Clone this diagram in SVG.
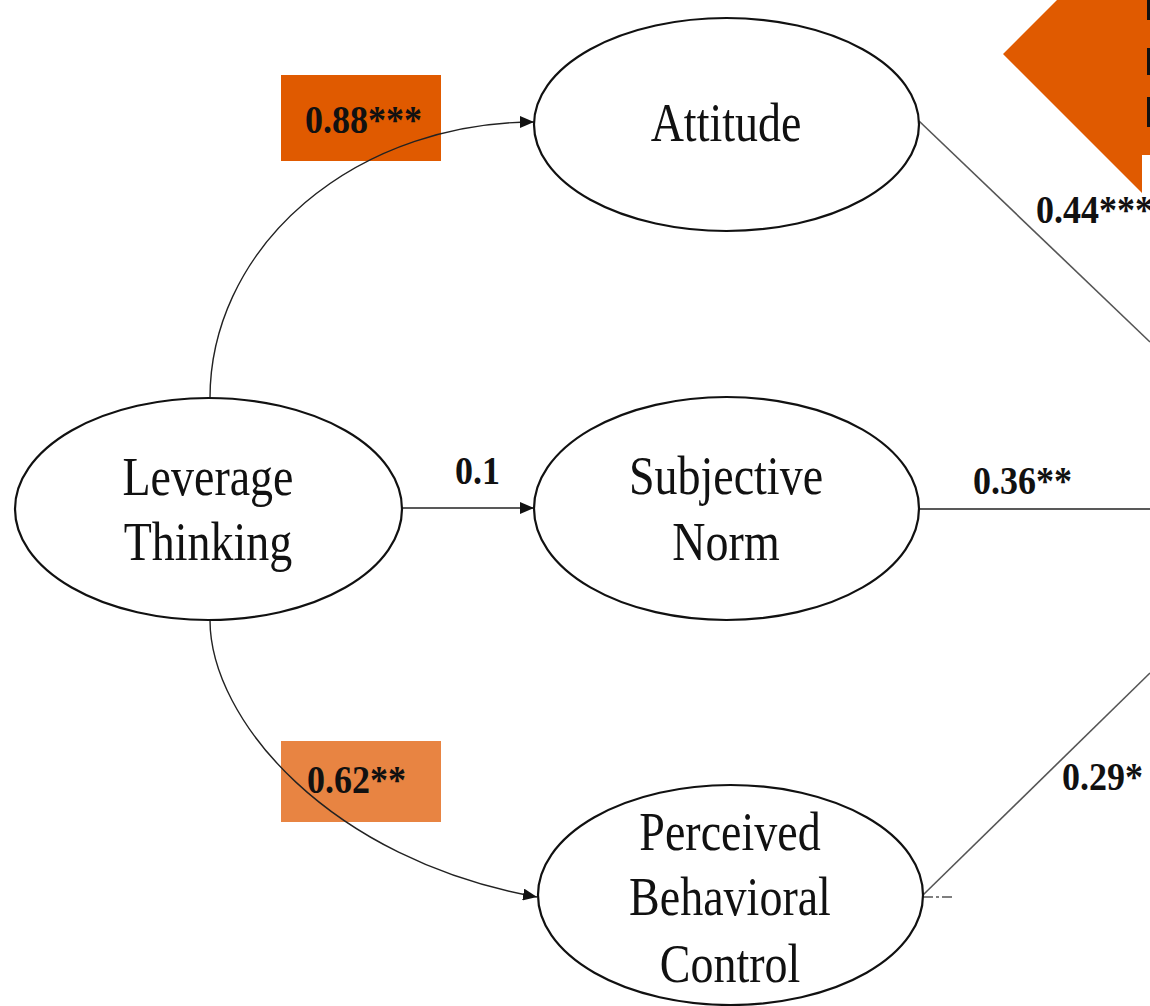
<svg xmlns="http://www.w3.org/2000/svg" width="1150" height="1006" viewBox="0 0 1150 1006">
  <style>
    .node ellipse { fill: #ffffff; stroke: #111111; stroke-width: 2.2; }
    .node text { font-family: "Liberation Serif", "Times New Roman", serif; font-size: 46px; fill: #111111; text-anchor: middle; }
    .edge { fill: none; stroke: #222222; stroke-width: 1.4; }
    .edge.thin { stroke: #555555; stroke-width: 1.6; }
    .lbl { font-family: "Liberation Serif", "Times New Roman", serif; font-weight: bold; font-size: 36px; fill: #111111; }
  </style>
  <defs>
    <marker id="arrow" viewBox="0 0 14 12" refX="14" refY="6" markerWidth="14" markerHeight="12" markerUnits="userSpaceOnUse" orient="auto">
      <path d="M0,0 L14,6 L0,12 Z" fill="#111111"/>
    </marker>
  </defs>
  <rect width="1150" height="1006" fill="#ffffff"/>

  <!-- callout arrow in the top-right corner -->
  <g id="callout">
    <polygon points="1003,54 1057,0 1150,0 1150,155 1142,155 1142,193" fill="#e05a00"/>
    <rect x="1147" y="0" width="3" height="20" fill="#111111"/>
    <rect x="1147" y="48" width="3" height="27" fill="#111111"/>
    <rect x="1147" y="97" width="3" height="30" fill="#111111"/>
  </g>

  <!-- highlighted coefficient boxes -->
  <rect x="281" y="75" width="160" height="86" fill="#e05a00"/>
  <rect x="281" y="741" width="160" height="81" fill="#e88442"/>

  <g id="connectors">
    <path class="edge" d="M210,398 A324,276 0 0 1 534,122" marker-end="url(#arrow)"/>
    <path class="edge" d="M402,508 L534,508" marker-end="url(#arrow)"/>
    <path class="edge" d="M210,620 C210,720 330,860 537,897" marker-end="url(#arrow)"/>
    <path class="edge thin" d="M919,121 L1150,342"/>
    <path class="edge" d="M919,509 L1150,509"/>
    <path class="edge thin" d="M923,895 L1150,673"/>
    <path class="edge thin" d="M923,897 L955,897" stroke-dasharray="10,3,3,3"/>
  </g>

  <g id="node-leverage" class="node">
    <ellipse cx="208.5" cy="509" rx="193.5" ry="111"/>
    <text transform="translate(208,495) scale(1,1.2)">Leverage</text>
    <text transform="translate(208,560) scale(1,1.2)">Thinking</text>
  </g>
  <g id="node-attitude" class="node">
    <ellipse cx="726.5" cy="124.5" rx="192.5" ry="106.5"/>
    <text transform="translate(726,141) scale(1,1.2)">Attitude</text>
  </g>
  <g id="node-subjective" class="node">
    <ellipse cx="726.5" cy="508.5" rx="192.5" ry="111.5"/>
    <text transform="translate(726,494) scale(1,1.2)">Subjective</text>
    <text transform="translate(726,560) scale(1,1.2)">Norm</text>
  </g>
  <g id="node-pbc" class="node">
    <ellipse cx="730.5" cy="895" rx="192.5" ry="110"/>
    <text transform="translate(730,850) scale(1,1.2)">Perceived</text>
    <text transform="translate(730,915) scale(1,1.2)">Behavioral</text>
    <text transform="translate(730,982) scale(1,1.2)">Control</text>
  </g>

  <g id="labels">
    <text class="lbl" transform="translate(305,133) scale(1,1.1)">0.88***</text>
    <text class="lbl" transform="translate(455,484) scale(1,1.1)">0.1</text>
    <text class="lbl" transform="translate(307,793) scale(1,1.1)">0.62**</text>
    <text class="lbl" transform="translate(1036,223) scale(1,1.1)">0.44***</text>
    <text class="lbl" transform="translate(973,494) scale(1,1.1)">0.36**</text>
    <text class="lbl" transform="translate(1062,790) scale(1,1.1)">0.29*</text>
  </g>
</svg>
